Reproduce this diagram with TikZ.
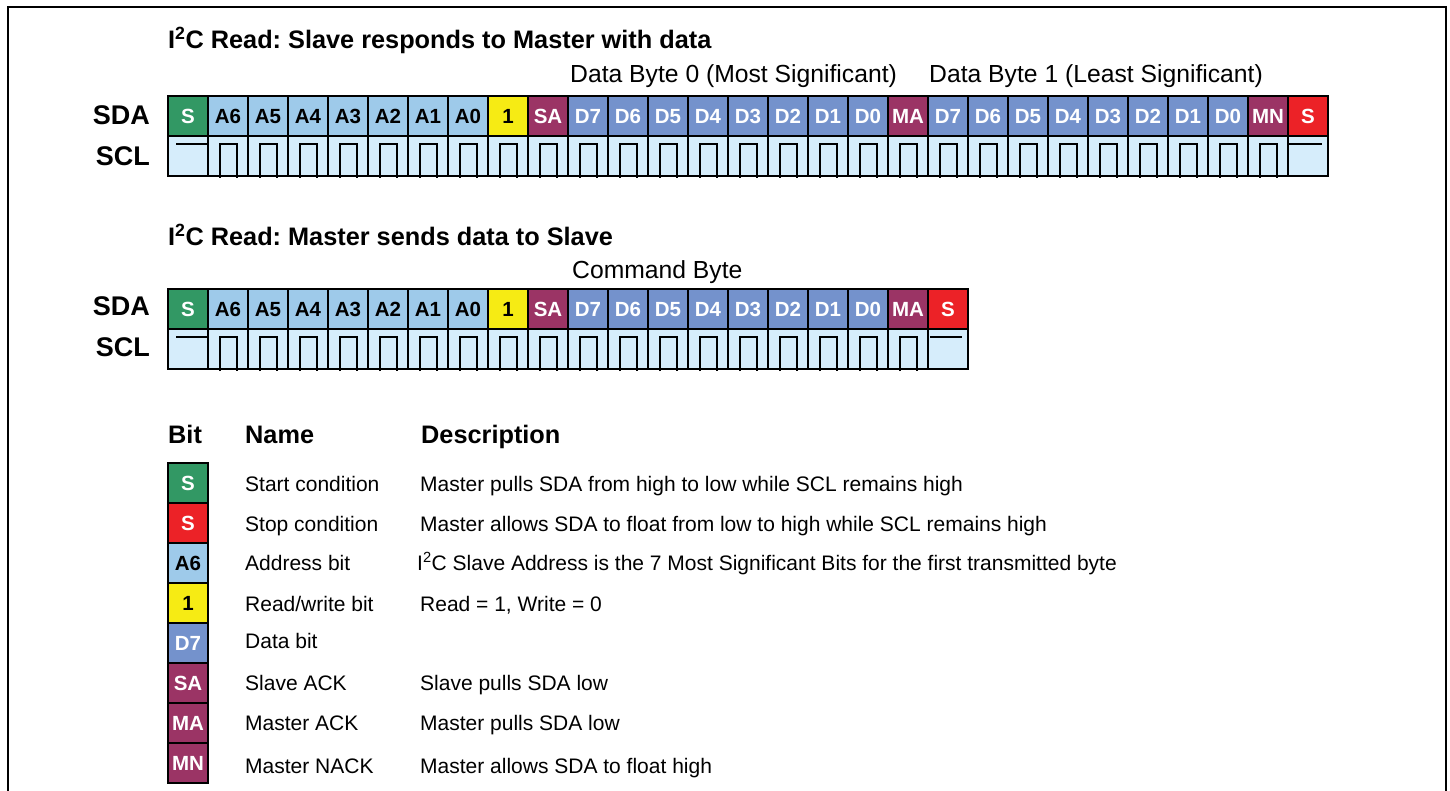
\documentclass[tikz,border=0pt]{standalone}
\usepackage{fontspec}
\setmainfont{Liberation Sans}
\usetikzlibrary{calc}
\frenchspacing
\definecolor{startgreen}{RGB}{50,152,100}
\definecolor{addrblue}{RGB}{158,202,234}
\definecolor{sclblue}{RGB}{214,237,251}
\definecolor{rwyellow}{RGB}{246,235,20}
\definecolor{ackmaroon}{RGB}{155,52,101}
\definecolor{datablue}{RGB}{116,146,204}
\definecolor{stopred}{RGB}{236,34,39}
\tikzset{
  cellbox/.style={draw=black, line width=2.4pt, minimum width=40pt, minimum height=40pt,
    inner sep=0pt, outer sep=0pt, text height=14.7pt, text depth=0pt,
    font=\bfseries\fontsize{20.5}{24}\selectfont},
  startb/.style={fill=startgreen, text=white},
  addr/.style={fill=addrblue, text=black},
  rw/.style={fill=rwyellow, text=black},
  ack/.style={fill=ackmaroon, text=white},
  datab/.style={fill=datablue, text=white},
  stopb/.style={fill=stopred, text=white},
  sclcell/.style={draw=black, line width=2.4pt, fill=sclblue, minimum width=40pt,
    minimum height=40pt, inner sep=0pt, outer sep=0pt},
  wave/.style={line width=2pt},
  signame/.style={anchor=base east, inner sep=0pt, font=\bfseries\fontsize{27}{30}\selectfont},
  heading/.style={anchor=base west, inner sep=0pt, font=\bfseries\fontsize{25.3}{29}\selectfont},
  annot/.style={anchor=base west, inner sep=0pt, font=\fontsize{24.7}{28}\selectfont},
  legtext/.style={anchor=base west, inner sep=0pt, font=\fontsize{21}{25}\selectfont},
  frame/.style={line width=2.5pt},
}
\begin{document}
\begin{tikzpicture}[x=1pt,y=-1pt]
\useasboundingbox (0,0) rectangle (1450,791);
% frame
\coordinate (fbl) at (8,791);
\coordinate (ftl) at (8,7);
\coordinate (ftr) at (1446,7);
\coordinate (fbr) at (1446,791);
\draw[frame] (fbl) -- (ftl) -- (ftr) -- (fbr);

% ---------- Row 1 ----------
\node[heading] (t1) at (168,49) {I\textsuperscript{2}C Read: Slave responds to Master with data};
\node[annot] (db0) at (570,83) {Data Byte 0 (Most Significant)};
\node[annot] (db1) at (929,83) {Data Byte 1 (Least Significant)};
\node[signame] (sda1) at (150,125) {SDA};
\node[signame] (scl1) at (150,166) {SCL};
\foreach \st/\lb [count=\i from 0] in {startb/S, addr/A6, addr/A5, addr/A4, addr/A3, addr/A2, addr/A1, addr/A0, rw/1, ack/SA,
  datab/D7, datab/D6, datab/D5, datab/D4, datab/D3, datab/D2, datab/D1, datab/D0, ack/MA,
  datab/D7, datab/D6, datab/D5, datab/D4, datab/D3, datab/D2, datab/D1, datab/D0, ack/MN, stopb/S} {
  \node[cellbox,\st] (a\i) at ({188+40*\i},116) {\lb};
  \node[sclcell] (b\i) at ({188+40*\i},156) {};
}
\foreach \i in {1,...,27} {
  \draw[wave] ([shift={(12,2)}]b\i.south west) -- ++(0,-34) -- ++(17,0) -- ++(0,34);
}
\draw[wave] ([shift={(8,8)}]b0.north west) -- ([shift={(0,8)}]b0.north east);
\draw[wave] ([shift={(1,8)}]b28.north west) -- ([shift={(-6,8)}]b28.north east);

% ---------- Row 2 ----------
\node[heading] (t2) at (168,246) {I\textsuperscript{2}C Read: Master sends data to Slave};
\node[annot] (cmd) at (572,279) {Command Byte};
\node[signame] (sda2) at (150,316) {SDA};
\node[signame] (scl2) at (150,356) {SCL};
\foreach \st/\lb [count=\i from 0] in {startb/S, addr/A6, addr/A5, addr/A4, addr/A3, addr/A2, addr/A1, addr/A0, rw/1, ack/SA,
  datab/D7, datab/D6, datab/D5, datab/D4, datab/D3, datab/D2, datab/D1, datab/D0, ack/MA, stopb/S} {
  \node[cellbox,\st] (c\i) at ({188+40*\i},309) {\lb};
  \node[sclcell] (d\i) at ({188+40*\i},349) {};
}
\foreach \i in {1,...,18} {
  \draw[wave] ([shift={(12,2)}]d\i.south west) -- ++(0,-34) -- ++(17,0) -- ++(0,34);
}
\draw[wave] ([shift={(8,8)}]d0.north west) -- ([shift={(0,8)}]d0.north east);
\draw[wave] ([shift={(2,8)}]d19.north west) -- ([shift={(-6,8)}]d19.north east);

% ---------- Legend ----------
\node[heading] (hbit) at (168,443) {Bit};
\node[heading] (hname) at (245,443) {Name};
\node[heading] (hdesc) at (421,443) {Description};

\node[cellbox,startb] (l0) at (188,483) {S};
\node[cellbox,stopb]  (l1) at (188,523) {S};
\node[cellbox,addr]   (l2) at (188,563) {A6};
\node[cellbox,rw]     (l3) at (188,603) {1};
\node[cellbox,datab]  (l4) at (188,643) {D7};
\node[cellbox,ack]    (l5) at (188,683) {SA};
\node[cellbox,ack]    (l6) at (188,723) {MA};
\node[cellbox,ack]    (l7) at (188,763) {MN};

\node[legtext] (n0) at (245,491) {Start condition};
\node[legtext] (n1) at (245,531) {Stop condition};
\node[legtext] (n2) at (245,570) {Address bit};
\node[legtext] (n3) at (245,611) {Read/write bit};
\node[legtext] (n4) at (245,648) {Data bit};
\node[legtext] (n5) at (245,690) {Slave ACK};
\node[legtext] (n6) at (245,730) {Master ACK};
\node[legtext] (n7) at (245,773) {Master NACK};

\node[legtext] (e0) at (420,491) {Master pulls SDA from high to low while SCL remains high};
\node[legtext] (e1) at (420,531) {Master allows SDA to float from low to high while SCL remains high};
\node[legtext] (e2) at (417,570) {I\textsuperscript{2}C Slave Address is the 7 Most Significant Bits for the first transmitted byte};
\node[legtext] (e3) at (420,611) {Read = 1, Write = 0};
\node[legtext] (e5) at (420,690) {Slave pulls SDA low};
\node[legtext] (e6) at (420,730) {Master pulls SDA low};
\node[legtext] (e7) at (420,773) {Master allows SDA to float high};
\end{tikzpicture}
\end{document}
